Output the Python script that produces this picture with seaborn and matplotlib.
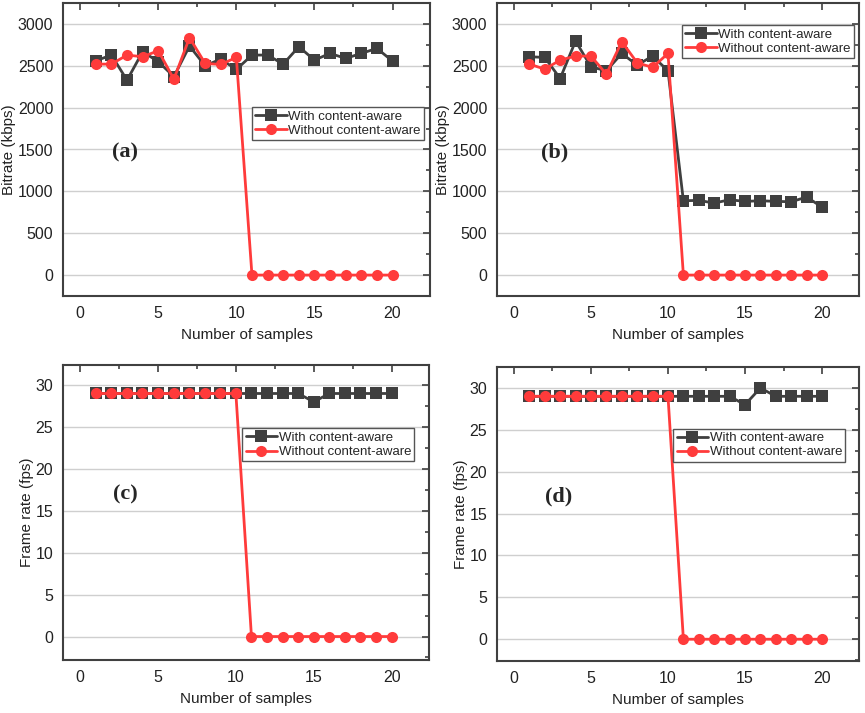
import pandas as pd
import matplotlib
matplotlib.use('Agg')
import matplotlib.pyplot as plt
from matplotlib.ticker import MultipleLocator
import seaborn as sns

# data
samples = list(range(1, 21))

# (a) bitrate, scenario 1
bitrate_a_with = [2560, 2628, 2328, 2668, 2550, 2370, 2736, 2500, 2580, 2456,
                  2628, 2628, 2520, 2728, 2568, 2648, 2588, 2648, 2708, 2556]
bitrate_a_without = [2520, 2520, 2628, 2608, 2680, 2340, 2836, 2528, 2516, 2600,
                     0, 0, 0, 0, 0, 0, 0, 0, 0, 0]

# (b) bitrate, scenario 2
bitrate_b_with = [2608, 2600, 2348, 2796, 2488, 2440, 2648, 2508, 2616, 2440,
                  888, 892, 860, 900, 880, 888, 880, 876, 932, 812]
bitrate_b_without = [2520, 2460, 2568, 2616, 2616, 2400, 2788, 2536, 2480, 2648,
                     0, 0, 0, 0, 0, 0, 0, 0, 0, 0]

# (c) frame rate, scenario 1
fps_c_with = [29, 29, 29, 29, 29, 29, 29, 29, 29, 29,
              29, 29, 29, 29, 28, 29, 29, 29, 29, 29]
fps_c_without = [29, 29, 29, 29, 29, 29, 29, 29, 29, 29,
                 0, 0, 0, 0, 0, 0, 0, 0, 0, 0]

# (d) frame rate, scenario 2
fps_d_with = [29, 29, 29, 29, 29, 29, 29, 29, 29, 29,
              29, 29, 29, 29, 28, 30, 29, 29, 29, 29]
fps_d_without = [29, 29, 29, 29, 29, 29, 29, 29, 29, 29,
                 0, 0, 0, 0, 0, 0, 0, 0, 0, 0]

methods = ['With content-aware', 'Without content-aware']
palette = {'With content-aware': '#3f3f3f', 'Without content-aware': '#ff3b3b'}
markers = {'With content-aware': 's', 'Without content-aware': 'o'}


def make_df(with_vals, without_vals):
    return pd.DataFrame({
        'sample': samples + samples,
        'value': with_vals + without_vals,
        'method': [methods[0]] * len(samples) + [methods[1]] * len(samples),
    })


sns.set_theme(style='white')
plt.rcParams['font.family'] = ['Liberation Sans', 'DejaVu Sans']

fig = plt.figure(figsize=(8.65, 7.13), dpi=100)

W, H = 865, 713


def add_axes(left, top, right, bottom):
    return fig.add_axes([left / W, 1 - bottom / H, (right - left) / W, (bottom - top) / H])


panels = [
    # rect, data, ylabel, ylim, major, minor, tag, tag pos, legend pos
    ((63, 3, 430, 296), make_df(bitrate_a_with, bitrate_a_without), 'Bitrate (kbps)',
     (-250, 3250), 500, 250, '(a)', (0.17, 0.49), (0.515, 0.645)),
    ((497, 3, 859, 296), make_df(bitrate_b_with, bitrate_b_without), 'Bitrate (kbps)',
     (-250, 3250), 500, 250, '(b)', (0.16, 0.49), (0.51, 0.925)),
    ((63, 365, 429, 660), make_df(fps_c_with, fps_c_without), 'Frame rate (fps)',
     (-2.8, 32.4), 5, 2.5, '(c)', (0.17, 0.56), (0.49, 0.785)),
    ((497, 367, 859, 661), make_df(fps_d_with, fps_d_without), 'Frame rate (fps)',
     (-2.6, 32.5), 5, 2.5, '(d)', (0.17, 0.56), (0.487, 0.79)),
]

spine_color = '#404040'

for rect, df, ylabel, ylim, major, minor, tag, tag_pos, leg_pos in panels:
    ax = add_axes(*rect)
    sns.lineplot(data=df, x='sample', y='value', hue='method', style='method',
                 hue_order=methods, style_order=methods, palette=palette,
                 markers=markers, dashes=False, linewidth=2.0, markersize=8,
                 markeredgewidth=0, ax=ax)
    ax.set_xlim(-1.1, 22.4)
    ax.set_ylim(*ylim)
    ax.xaxis.set_major_locator(MultipleLocator(5))
    ax.xaxis.set_minor_locator(MultipleLocator(2.5))
    ax.yaxis.set_major_locator(MultipleLocator(major))
    ax.yaxis.set_minor_locator(MultipleLocator(minor))
    ax.tick_params(axis='both', which='major', direction='out', length=5, width=1.2,
                   color=spine_color, labelsize=11.5, labelcolor='#222222', pad=2)
    ax.tick_params(axis='both', which='minor', direction='out', length=3, width=1.2,
                   color=spine_color)
    ax.tick_params(top=True, right=True, which='both')
    # mirrored ticks on top/right point inward
    for t in ax.xaxis.get_major_ticks() + ax.xaxis.get_minor_ticks():
        t.tick2line.set_marker(3)
    for t in ax.yaxis.get_major_ticks() + ax.yaxis.get_minor_ticks():
        t.tick2line.set_marker(0)
    ax.yaxis.grid(True, which='major', color='#cfcfcf', linewidth=1.0)
    ax.set_axisbelow(True)
    for s in ax.spines.values():
        s.set_color(spine_color)
        s.set_linewidth(1.5)
    ax.set_xlabel('Number of samples', fontsize=11, color='#222222', labelpad=5)
    ax.set_ylabel(ylabel, fontsize=11, color='#222222', labelpad=1)
    ax.text(tag_pos[0], tag_pos[1], tag, transform=ax.transAxes, fontsize=16,
            fontweight='bold', family='Liberation Serif', ha='center', va='center')
    ax.legend(loc='upper left', bbox_to_anchor=leg_pos, fontsize=9.5, frameon=True,
              fancybox=False, edgecolor='#555555', framealpha=1, borderpad=0.25,
              labelspacing=0.15, handlelength=2.4, handletextpad=0.1,
              borderaxespad=0, title=None)
    ax.get_legend().get_frame().set_linewidth(1.0)

fig.savefig('out.png', dpi=100)
